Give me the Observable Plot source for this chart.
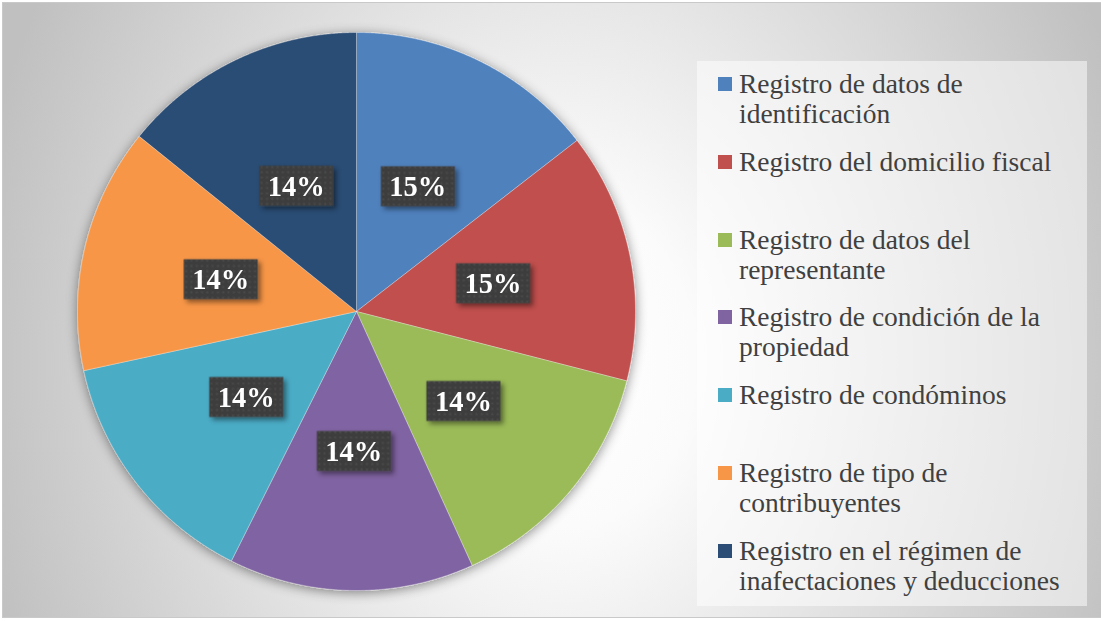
<!DOCTYPE html>
<html>
<head>
<meta charset="utf-8">
<script src="https://cdn.jsdelivr.net/npm/d3@7"></script>
<script src="https://cdn.jsdelivr.net/npm/@observablehq/plot@0.6"></script>
<style>
  html, body { margin: 0; padding: 0; background: #fff; }
  #wrap { position: relative; width: 1101px; height: 621px; overflow: hidden; }
  #bg { position: absolute; left: 2px; top: 2px; width: 1105px; height: 616px; box-sizing: border-box;
        border: 1px solid #c9c9c9;
        background: radial-gradient(ellipse 600px 750px at 560px 360px, #ffffff 0%, #fbfbfb 22%, #c0c0c0 100%); }
  #plot { position: absolute; left: 0; top: 0; }
  #legend { position: absolute; left: 697px; top: 61px; width: 390px; height: 545px;
            background: rgba(255,255,255,0.5); }
  .item { position: absolute; left: 42px; width: 345px; font-family: "Liberation Serif", serif;
          font-size: 27.5px; line-height: 30px; color: #404040; }
  .sw { position: absolute; left: 21px; width: 14px; height: 14px; }
</style>
</head>
<body>
<div id="wrap">
  <div id="bg"></div>
  <div id="plot"></div>
  <div id="legend"></div>
</div>
<script>
const categories = [
  "Registro de datos de identificación",
  "Registro del domicilio fiscal",
  "Registro de datos del representante",
  "Registro de condición de la propiedad",
  "Registro de condóminos",
  "Registro de tipo de contribuyentes",
  "Registro en el régimen de inafectaciones y deducciones"
];
const values = [14.5, 14.5, 14.2, 14.2, 14.2, 14.2, 14.2];
const labels = ["15%", "15%", "14%", "14%", "14%", "14%", "14%"];
const colors = ["#4F81BD", "#C0504D", "#9BBB59", "#8064A2", "#4BACC6", "#F79646", "#2C4D75"];

// layout
const W = 1101, H = 621, cx = 356, cy = 311, R = 279;

const arcs = d3.pie().sort(null).value(d => d)(values);

// slice outlines in unit-circle data coordinates
const slicePts = [];
arcs.forEach((a, i) => {
  const cat = categories[i];
  slicePts.push({cat, x: 0, y: 0});
  const n = Math.max(2, Math.ceil((a.endAngle - a.startAngle) / 0.005));
  for (let k = 0; k <= n; k++) {
    const t = a.startAngle + (a.endAngle - a.startAngle) * k / n;
    slicePts.push({cat, x: Math.sin(t), y: Math.cos(t)});
  }
  slicePts.push({cat, x: 0, y: 0});
});

const labelData = arcs.map((a, i) => {
  const m = (a.startAngle + a.endAngle) / 2;
  return {cat: categories[i], label: labels[i], x: 0.5 * Math.sin(m), y: 0.5 * Math.cos(m)};
});

const boxSymbol = { draw(ctx) { ctx.rect(-37, -20, 74, 40); } };

const svg = Plot.plot({
  width: W, height: H,
  margin: 0,
  style: "background: transparent; overflow: visible;",
  x: {domain: [-1, 1], range: [cx - R, cx + R], axis: null},
  y: {domain: [-1, 1], range: [cy + R, cy - R], axis: null},
  color: {domain: categories, range: colors},
  marks: [
    Plot.line(slicePts, {x: "x", y: "y", z: "cat", fill: "cat", stroke: "#ffffff", strokeWidth: 0.7, strokeOpacity: 0.45, curve: "linear"}),
    Plot.dot(labelData, {x: "x", y: "y", symbol: boxSymbol, fill: "url(#dots)", stroke: "none"}),
    Plot.text(labelData, {x: "x", y: "y", text: "label", fill: "white", fontSize: 28.5, fontWeight: "bold", fontFamily: "Liberation Serif", dy: 1})
  ]
});

const s = d3.select(svg);
const defs = s.insert("defs", ":first-child");
const pat = defs.append("pattern").attr("id", "dots").attr("patternUnits", "userSpaceOnUse")
  .attr("width", 5.3).attr("height", 5.3);
pat.append("rect").attr("width", 5.3).attr("height", 5.3).attr("fill", "#3e3e3e");
pat.append("rect").attr("x", 1.6).attr("y", 1.6).attr("width", 1.7).attr("height", 1.7).attr("fill", "#4e4e4e");
const f1 = defs.append("filter").attr("id", "pieShadow").attr("x", "-20%").attr("y", "-20%").attr("width", "140%").attr("height", "140%");
f1.append("feDropShadow").attr("dx", 0).attr("dy", 2).attr("stdDeviation", 6).attr("flood-color", "#000").attr("flood-opacity", 0.45);
const f2 = defs.append("filter").attr("id", "boxShadow").attr("x", "-30%").attr("y", "-30%").attr("width", "160%").attr("height", "160%");
f2.append("feDropShadow").attr("dx", 3).attr("dy", 3).attr("stdDeviation", 2.5).attr("flood-color", "#000").attr("flood-opacity", 0.45);

s.select("g[aria-label='line']").attr("filter", "url(#pieShadow)");
s.select("g[aria-label='dot']").attr("filter", "url(#boxShadow)");

document.getElementById("plot").appendChild(svg);

// legend
const legend = d3.select("#legend");
categories.forEach((c, i) => {
  const top = 8 + i * 77.8;
  legend.append("div").attr("class", "sw").style("top", (top + 8) + "px").style("background", colors[i]);
  legend.append("div").attr("class", "item").style("top", top + "px").text(c);
});
</script>
</body>
</html>
